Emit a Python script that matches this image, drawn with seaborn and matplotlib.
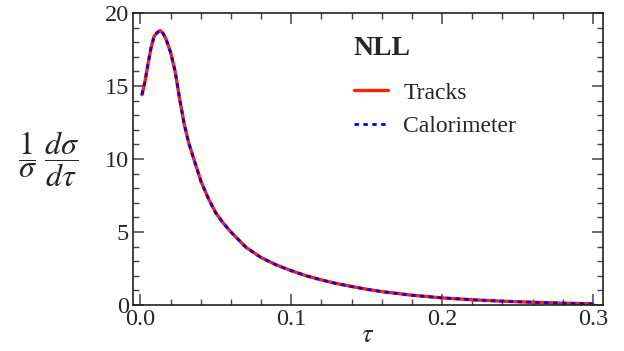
import pandas as pd
import matplotlib.pyplot as plt
from matplotlib.ticker import MultipleLocator
import seaborn as sns

# Distribution values
tau = [0.001, 0.003, 0.005, 0.007, 0.009, 0.011, 0.013, 0.015, 0.017, 0.020,
       0.023, 0.026, 0.029, 0.032, 0.036, 0.040, 0.045, 0.050, 0.055, 0.060,
       0.070, 0.080, 0.090, 0.100, 0.110, 0.120, 0.130, 0.140, 0.150, 0.160,
       0.180, 0.200, 0.220, 0.240, 0.260, 0.280, 0.300]
tracks = [14.4, 15.3, 16.5, 17.6, 18.4, 18.65, 18.8, 18.6, 18.2, 17.3,
          16.0, 14.1, 12.4, 11.1, 9.8, 8.5, 7.3, 6.3, 5.6, 5.0,
          3.95, 3.25, 2.75, 2.35, 2.0, 1.72, 1.47, 1.27, 1.08, 0.92,
          0.67, 0.49, 0.36, 0.26, 0.19, 0.13, 0.08]
calorimeter = [14.4, 15.3, 16.5, 17.6, 18.4, 18.65, 18.8, 18.6, 18.2, 17.3,
               16.0, 14.1, 12.4, 11.1, 9.8, 8.5, 7.3, 6.3, 5.6, 5.0,
               3.95, 3.25, 2.75, 2.35, 2.0, 1.72, 1.47, 1.27, 1.08, 0.92,
               0.67, 0.49, 0.36, 0.26, 0.19, 0.13, 0.08]

df = pd.DataFrame({'tau': tau, 'Tracks': tracks, 'Calorimeter': calorimeter})

sns.set_style('ticks')
plt.rcParams['font.family'] = ['Liberation Serif', 'DejaVu Serif']
plt.rcParams['mathtext.fontset'] = 'stix'

fig = plt.figure(figsize=(6.24, 3.51), dpi=100)
ax = fig.add_axes([0.213, 0.131, 0.753, 0.832])

sns.lineplot(data=df, x='tau', y='Tracks', ax=ax, color='#ff2200', lw=2.4,
             label='Tracks')
sns.lineplot(data=df, x='tau', y='Calorimeter', ax=ax, color='#0000ff', lw=2.0,
             linestyle=(0, (1.6, 1.6)), label='Calorimeter')

ax.set_xlim(-0.005, 0.3066)
ax.set_ylim(0, 20)
ax.xaxis.set_major_locator(MultipleLocator(0.1))
ax.xaxis.set_minor_locator(MultipleLocator(0.02))
ax.yaxis.set_major_locator(MultipleLocator(5))
ax.yaxis.set_minor_locator(MultipleLocator(1))
ax.xaxis.set_major_formatter(plt.FormatStrFormatter('%.1f'))
ax.tick_params(which='both', direction='in', top=True, right=True,
               labelsize=17.5, color='#444444', pad=3)
ax.tick_params(which='major', length=8, width=1.1)
ax.tick_params(which='minor', length=4, width=1.0)
for s in ax.spines.values():
    s.set_linewidth(1.2)
    s.set_color('#222222')

ax.set_xlabel(r'$\tau$', fontsize=19, va='center')
ax.xaxis.set_label_coords(0.5, -0.105)
ax.set_ylabel(r'$\dfrac{\mathit{1}}{\sigma}\;\dfrac{d\sigma}{d\tau}$', fontsize=23,
              rotation=0, ha='center', va='center')
ax.yaxis.set_label_coords(-0.18, 0.5)

leg = ax.legend(title='NLL', frameon=False, fontsize=17, loc='upper left',
                bbox_to_anchor=(0.425, 0.993), handlelength=1.45,
                handletextpad=0.65, labelspacing=0.52, alignment='left')
leg.get_title().set_fontsize(20)
leg.get_title().set_fontweight('bold')
leg._legend_box.sep = 15

fig.savefig('out.png', dpi=100)
